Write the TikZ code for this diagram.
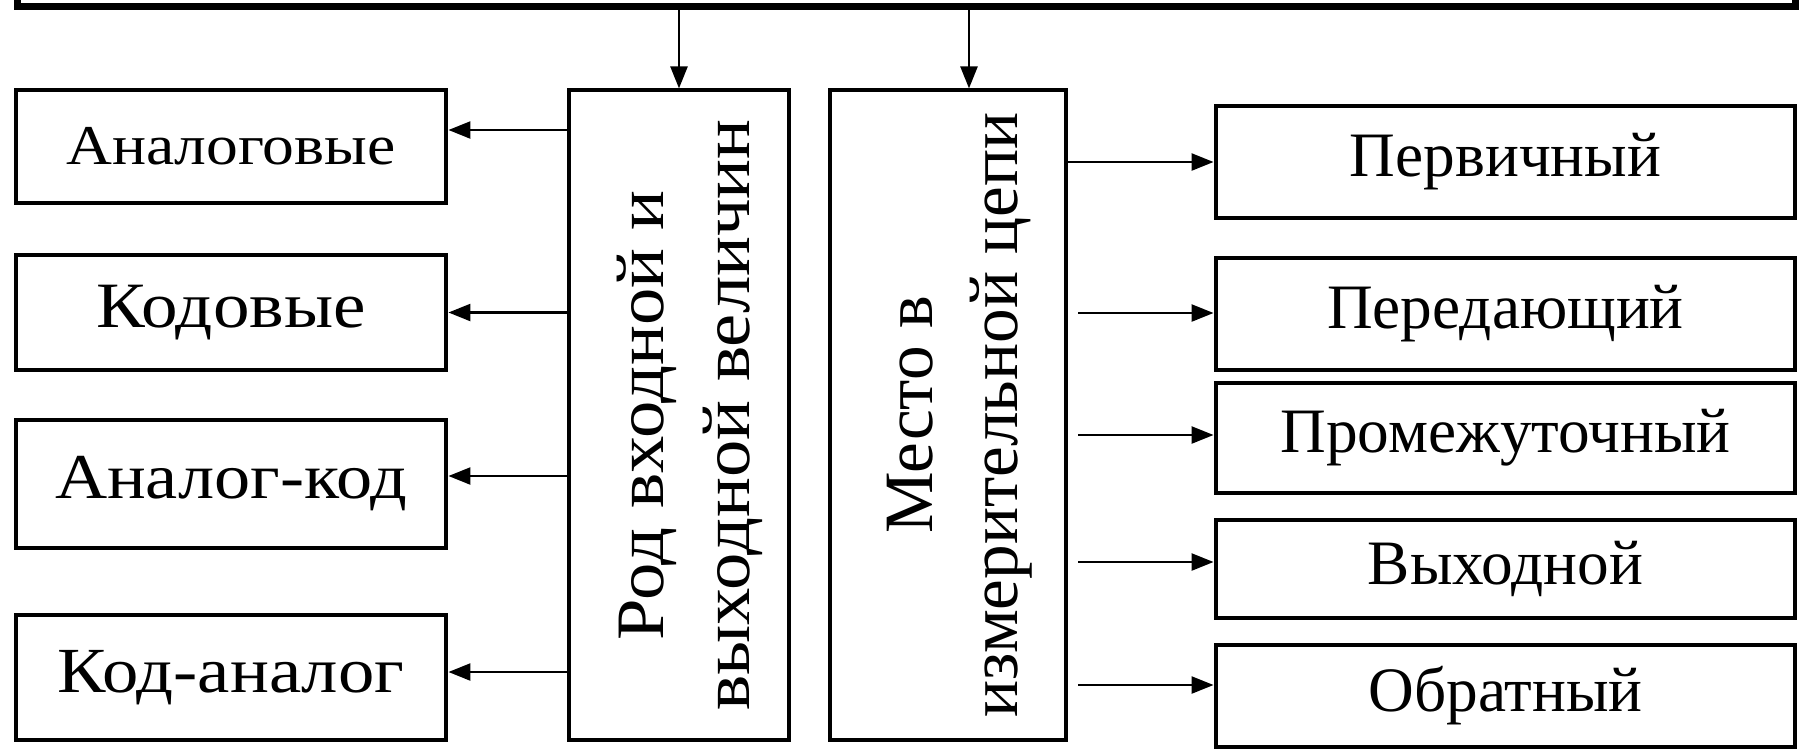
\documentclass[tikz,border=0pt]{standalone}
\usepackage{fontspec}
\setmainfont{Liberation Serif}
\newfontfamily\widefont{Liberation Serif}[FakeStretch=1.13]
\newfontfamily\longfont{Liberation Serif}[FakeStretch=1.1]
\usepackage{tikz}
\usetikzlibrary{arrows.meta, calc}

\begin{document}
\begin{tikzpicture}[
  font=\fontsize{18}{24}\selectfont,
  box/.style={rectangle, draw=black, line width=1.4pt, inner sep=0pt},
  tall/.style={rectangle, draw=black, line width=0.9pt, inner sep=0pt, minimum height=6.5cm},
  arr/.style={-{Triangle[length=2.2mm, width=1.7mm]}, line width=0.7pt}
]
  \useasboundingbox (0,0) rectangle (18.01,7.52);
  \clip (0,0) rectangle (18.01,7.52);
  \node[box, line width=2pt, minimum width=17.78cm, minimum height=2cm, anchor=south west] (top) at (0.14,7.42) {};
  \node[tall, minimum width=2.20cm, font=\longfont\fontsize{19.3}{24.5}\selectfont] (rod) at (6.79,3.37)
    {\hspace*{0.2cm}\rotatebox{90}{\begin{tabular}{@{}c@{}}Род входной и\\выходной величин\end{tabular}}};
  \node[tall, minimum width=2.36cm, font=\fontsize{19.7}{24}\selectfont] (mesto) at (9.48,3.37)
    {\hspace*{0.2cm}\rotatebox{90}{\begin{tabular}{@{}c@{}}Место в\\измерительной цепи\end{tabular}}};
  \draw[arr] (top.south -| rod.north) -- (rod.north);
  \draw[arr] ($(top.south -| mesto.north)+(0.21,0)$) -- ($(mesto.north)+(0.21,0)$);
  \foreach \name/\txt/\y/\h/\dy/\fs in {
      an/Аналоговые/6.055/1.13/0.165/16,
      kod/Кодовые/4.395/1.15/0/18.4,
      ank/Аналог-код/2.68/1.28/0.08/18.2,
      kan/Код-аналог/0.745/1.25/0.055/18.3
  } {
    \node[box, minimum width=4.30cm, minimum height=\h cm, font=\widefont\fontsize{\fs}{24}\selectfont] (\name) at (2.31,\y) {\txt};
    \draw[arr] ($(rod.west |- \name.east)+(0,\dy)$) -- ($(\name.east)+(0,\dy)$);
  }
  \foreach \name/\txt/\y/\h/\dy/\gap in {
      perv/Первичный/5.90/1.12/0/0,
      pered/Передающий/4.38/1.12/0.01/3,
      prom/Промежуточный/3.14/1.10/0.03/3,
      vyh/Выходной/1.83/0.98/0.07/3,
      obr/Обратный/0.56/1.02/0.11/3
  } {
    \node[box, minimum width=5.79cm, minimum height=\h cm] (\name) at (15.055,\y) {\txt};
    \draw[arr, shorten <=\gap pt] ($(mesto.east |- \name.west)+(0,\dy)$) -- ($(\name.west)+(0,\dy)$);
  }
\end{tikzpicture}
\end{document}
